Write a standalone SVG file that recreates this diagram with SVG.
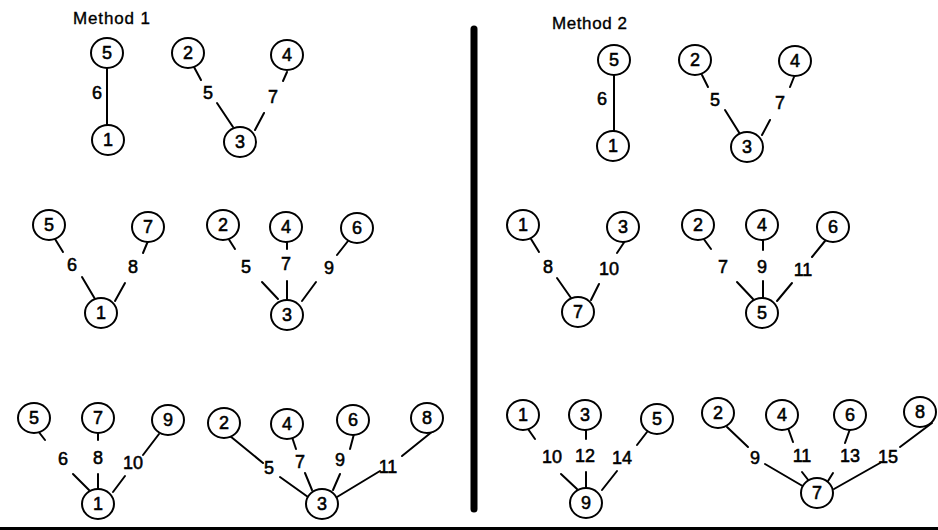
<svg xmlns="http://www.w3.org/2000/svg" width="938" height="530" viewBox="0 0 938 530">
  <style>
    .ring { fill: #fff; stroke: #000; stroke-width: 2; }
    .node text, .lbl { font-family: "Liberation Sans", Arial, sans-serif; font-size: 18px; text-anchor: middle; fill: #000; stroke: #000; stroke-width: 0.55; }
    .title { font-family: "Liberation Sans", Arial, sans-serif; font-size: 17px; fill: #000; stroke: #000; stroke-width: 0.35; }
    .edges line { stroke: #000; stroke-width: 2; stroke-linecap: round; }
    .rule { stroke: #000; stroke-linecap: round; }
  </style>
  <defs>
    <ellipse id="ring" class="ring" rx="16" ry="15"/>
  </defs>
  <rect width="938" height="530" fill="#fff"/>

  <!-- headings -->
  <text class="title" x="73" y="24" textLength="77">Method 1</text>
  <text class="title" x="552" y="29" textLength="75">Method 2</text>

  <!-- divider and base rule -->
  <line class="rule" x1="474" y1="29" x2="474" y2="509" stroke-width="7"/>
  <line x1="0" y1="528.5" x2="938" y2="528.5" stroke="#000" stroke-width="3"/>

  <!-- connectors with their weights -->
  <g id="connectors" class="edges">
    <!-- Method 1, step 1 -->
    <line x1="107" y1="67" x2="107" y2="126"/>
    <text class="lbl" x="97" y="99">6</text>
    <line x1="194" y1="67" x2="201" y2="80"/>
    <line x1="217" y1="103" x2="233" y2="127"/>
    <text class="lbl" x="208" y="99">5</text>
    <line x1="287" y1="72" x2="283" y2="81"/>
    <line x1="264" y1="113" x2="255" y2="130"/>
    <text class="lbl" x="273" y="103">7</text>

    <!-- Method 2, step 1 -->
    <line x1="614" y1="74" x2="614" y2="132"/>
    <text class="lbl" x="602" y="105">6</text>
    <line x1="702" y1="75" x2="708" y2="87"/>
    <line x1="725" y1="110" x2="740" y2="134"/>
    <text class="lbl" x="715" y="106">5</text>
    <line x1="794" y1="77" x2="790" y2="87"/>
    <line x1="770" y1="120" x2="762" y2="135"/>
    <text class="lbl" x="780" y="109">7</text>

    <!-- Method 1, step 2 -->
    <line x1="55" y1="239" x2="63" y2="252"/>
    <line x1="82" y1="277" x2="95" y2="299"/>
    <text class="lbl" x="72" y="271">6</text>
    <line x1="148" y1="241" x2="143" y2="253"/>
    <line x1="125" y1="283" x2="115" y2="301"/>
    <text class="lbl" x="133" y="273">8</text>
    <line x1="228" y1="238" x2="235" y2="249"/>
    <line x1="262" y1="282" x2="278" y2="299"/>
    <text class="lbl" x="246" y="273">5</text>
    <line x1="287" y1="241" x2="287" y2="249"/>
    <line x1="287" y1="281" x2="287" y2="301"/>
    <text class="lbl" x="286" y="270">7</text>
    <line x1="348" y1="241" x2="337" y2="255"/>
    <line x1="316" y1="282" x2="302" y2="301"/>
    <text class="lbl" x="329" y="274">9</text>

    <!-- Method 2, step 2 -->
    <line x1="531" y1="239" x2="539" y2="252"/>
    <line x1="557" y1="278" x2="571" y2="298"/>
    <text class="lbl" x="548" y="273">8</text>
    <line x1="625" y1="241" x2="617" y2="253"/>
    <line x1="599" y1="284" x2="591" y2="300"/>
    <text class="lbl" x="609" y="275">10</text>
    <line x1="703" y1="238" x2="711" y2="249"/>
    <line x1="737" y1="282" x2="753" y2="299"/>
    <text class="lbl" x="723" y="273">7</text>
    <line x1="763" y1="239" x2="763" y2="250"/>
    <line x1="763" y1="281" x2="763" y2="299"/>
    <text class="lbl" x="762" y="273">9</text>
    <line x1="825" y1="241" x2="812" y2="257"/>
    <line x1="792" y1="283" x2="777" y2="301"/>
    <text class="lbl" x="803" y="276">11</text>

    <!-- Method 1, step 3 -->
    <line x1="38" y1="431" x2="45" y2="440"/>
    <line x1="73" y1="474" x2="89" y2="490"/>
    <text class="lbl" x="63" y="465">6</text>
    <line x1="98" y1="432" x2="98" y2="440"/>
    <line x1="98" y1="474" x2="98" y2="490"/>
    <text class="lbl" x="98" y="464">8</text>
    <line x1="159" y1="434" x2="143" y2="455"/>
    <line x1="125" y1="476" x2="113" y2="492"/>
    <text class="lbl" x="133" y="469">10</text>
    <line x1="230" y1="436" x2="263" y2="463"/>
    <line x1="280" y1="477" x2="308" y2="497"/>
    <text class="lbl" x="269" y="474">5</text>
    <line x1="292" y1="437" x2="296" y2="449"/>
    <line x1="305" y1="473" x2="312" y2="490"/>
    <text class="lbl" x="300" y="468">7</text>
    <line x1="354" y1="434" x2="350" y2="449"/>
    <line x1="340" y1="474" x2="333" y2="490"/>
    <text class="lbl" x="340" y="466">9</text>
    <line x1="433" y1="431" x2="402" y2="456"/>
    <line x1="380" y1="471" x2="337" y2="497"/>
    <text class="lbl" x="388" y="473">11</text>

    <!-- Method 2, step 3 -->
    <line x1="528" y1="429" x2="535" y2="439"/>
    <line x1="561" y1="474" x2="577" y2="489"/>
    <text class="lbl" x="552" y="463">10</text>
    <line x1="586" y1="429" x2="586" y2="439"/>
    <line x1="586" y1="472" x2="586" y2="489"/>
    <text class="lbl" x="585" y="462">12</text>
    <line x1="647" y1="432" x2="637" y2="445"/>
    <line x1="617" y1="471" x2="602" y2="490"/>
    <text class="lbl" x="622" y="464">14</text>
    <line x1="727" y1="427" x2="748" y2="447"/>
    <line x1="765" y1="464" x2="806" y2="488"/>
    <text class="lbl" x="755" y="464">9</text>
    <line x1="788" y1="428" x2="793" y2="442"/>
    <line x1="802" y1="472" x2="809" y2="481"/>
    <text class="lbl" x="802" y="462">11</text>
    <line x1="850" y1="429" x2="845" y2="443"/>
    <line x1="833" y1="473" x2="828" y2="481"/>
    <text class="lbl" x="850" y="462">13</text>
    <line x1="932" y1="423" x2="900" y2="447"/>
    <line x1="880" y1="463" x2="834" y2="489"/>
    <text class="lbl" x="888" y="463">15</text>
  </g>

  <!-- Method 1, step 1 -->
  <g id="m1s1-n5" class="node"><use href="#ring" x="107" y="53"/><text x="107" y="59">5</text></g>
  <g id="m1s1-n1" class="node"><use href="#ring" x="108" y="140"/><text x="108" y="146">1</text></g>
  <g id="m1s1-n2" class="node"><use href="#ring" x="188" y="53"/><text x="188" y="59">2</text></g>
  <g id="m1s1-n4" class="node"><use href="#ring" x="287" y="55"/><text x="287" y="61">4</text></g>
  <g id="m1s1-n3" class="node"><use href="#ring" x="240" y="142"/><text x="240" y="148">3</text></g>

  <!-- Method 2, step 1 -->
  <g id="m2s1-n5" class="node"><use href="#ring" x="614" y="60"/><text x="614" y="66">5</text></g>
  <g id="m2s1-n1" class="node"><use href="#ring" x="613" y="146"/><text x="613" y="152">1</text></g>
  <g id="m2s1-n2" class="node"><use href="#ring" x="695" y="60"/><text x="695" y="66">2</text></g>
  <g id="m2s1-n4" class="node"><use href="#ring" x="795" y="61"/><text x="795" y="67">4</text></g>
  <g id="m2s1-n3" class="node"><use href="#ring" x="747" y="147"/><text x="747" y="153">3</text></g>

  <!-- Method 1, step 2 -->
  <g id="m1s2-n5" class="node"><use href="#ring" x="49" y="225"/><text x="49" y="231">5</text></g>
  <g id="m1s2-n7" class="node"><use href="#ring" x="148" y="227"/><text x="148" y="233">7</text></g>
  <g id="m1s2-n1" class="node"><use href="#ring" x="101" y="313"/><text x="101" y="319">1</text></g>
  <g id="m1s2-n2" class="node"><use href="#ring" x="223" y="225"/><text x="223" y="231">2</text></g>
  <g id="m1s2-n4" class="node"><use href="#ring" x="286" y="227"/><text x="286" y="233">4</text></g>
  <g id="m1s2-n6" class="node"><use href="#ring" x="357" y="228"/><text x="357" y="234">6</text></g>
  <g id="m1s2-n3" class="node"><use href="#ring" x="287" y="315"/><text x="287" y="321">3</text></g>

  <!-- Method 2, step 2 -->
  <g id="m2s2-n1" class="node"><use href="#ring" x="523" y="225"/><text x="523" y="231">1</text></g>
  <g id="m2s2-n3" class="node"><use href="#ring" x="623" y="227"/><text x="623" y="233">3</text></g>
  <g id="m2s2-n7" class="node"><use href="#ring" x="578" y="312"/><text x="578" y="318">7</text></g>
  <g id="m2s2-n2" class="node"><use href="#ring" x="698" y="225"/><text x="698" y="231">2</text></g>
  <g id="m2s2-n4" class="node"><use href="#ring" x="762" y="225"/><text x="762" y="231">4</text></g>
  <g id="m2s2-n6" class="node"><use href="#ring" x="833" y="227"/><text x="833" y="233">6</text></g>
  <g id="m2s2-n5" class="node"><use href="#ring" x="762" y="313"/><text x="762" y="319">5</text></g>

  <!-- Method 1, step 3 -->
  <g id="m1s3-n5" class="node"><use href="#ring" x="34" y="418"/><text x="34" y="424">5</text></g>
  <g id="m1s3-n7" class="node"><use href="#ring" x="98" y="418"/><text x="98" y="424">7</text></g>
  <g id="m1s3-n9" class="node"><use href="#ring" x="168" y="420"/><text x="168" y="426">9</text></g>
  <g id="m1s3-n1" class="node"><use href="#ring" x="98" y="504"/><text x="98" y="510">1</text></g>
  <g id="m1s3-n2" class="node"><use href="#ring" x="224" y="423"/><text x="224" y="429">2</text></g>
  <g id="m1s3-n4" class="node"><use href="#ring" x="287" y="424"/><text x="287" y="430">4</text></g>
  <g id="m1s3-n6" class="node"><use href="#ring" x="353" y="420"/><text x="353" y="426">6</text></g>
  <g id="m1s3-n8" class="node"><use href="#ring" x="427" y="418"/><text x="427" y="424">8</text></g>
  <g id="m1s3-n3" class="node"><use href="#ring" x="322" y="504"/><text x="322" y="510">3</text></g>

  <!-- Method 2, step 3 -->
  <g id="m2s3-n1" class="node"><use href="#ring" x="523" y="415"/><text x="523" y="421">1</text></g>
  <g id="m2s3-n3" class="node"><use href="#ring" x="585" y="415"/><text x="585" y="421">3</text></g>
  <g id="m2s3-n5" class="node"><use href="#ring" x="657" y="419"/><text x="657" y="425">5</text></g>
  <g id="m2s3-n9" class="node"><use href="#ring" x="586" y="503"/><text x="586" y="509">9</text></g>
  <g id="m2s3-n2" class="node"><use href="#ring" x="718" y="413"/><text x="718" y="419">2</text></g>
  <g id="m2s3-n4" class="node"><use href="#ring" x="782" y="415"/><text x="782" y="421">4</text></g>
  <g id="m2s3-n6" class="node"><use href="#ring" x="850" y="415"/><text x="850" y="421">6</text></g>
  <g id="m2s3-n8" class="node"><use href="#ring" x="920" y="412"/><text x="920" y="418">8</text></g>
  <g id="m2s3-n7" class="node"><use href="#ring" x="817" y="493"/><text x="817" y="499">7</text></g>
</svg>
